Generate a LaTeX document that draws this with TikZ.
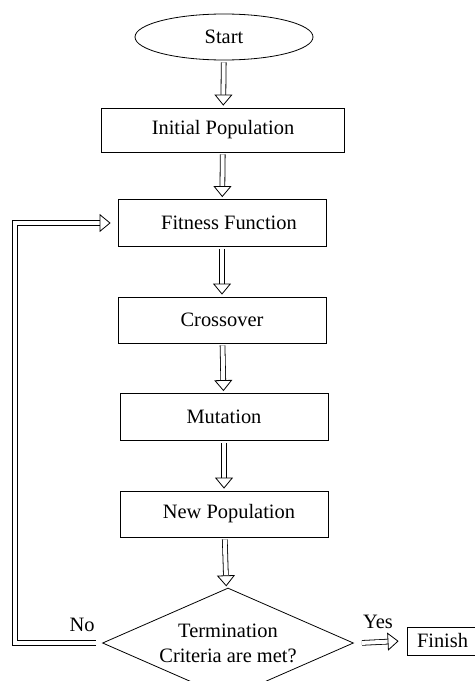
\documentclass[tikz,border=0pt]{standalone}
\usepackage{fontspec}
\setmainfont{Liberation Serif}
\usetikzlibrary{arrows.meta,shapes.geometric}

\begin{document}
\begin{tikzpicture}[font=\fontsize{20.5}{25}\selectfont,
  box/.style={draw,line width=0.8bp,rectangle,minimum width=208bp,minimum height=46bp,inner sep=0pt},
  flow/.style={draw,double,double distance=4bp,line width=0.8bp,shorten >=2bp,shorten <=2bp,-{Triangle[open,fill=white,width=18bp,length=11bp]}}]
\useasboundingbox (0bp,0bp) rectangle (475bp,-681bp);
\clip (0bp,0bp) rectangle (475bp,-681bp);
\node (start) at (224bp,-37bp)[draw,ellipse,line width=0.8bp,minimum width=178bp,minimum height=46bp,inner sep=0pt] {Start};
\node (init) at (223bp,-130bp)[box,minimum width=243bp,minimum height=44bp] {Initial Population};
\node (fit) at (222bp,-223bp)[box,minimum height=47bp] {\hspace{14bp}Fitness Function};
\node (cross) at (222bp,-320bp)[box] {Crossover};
\node (mut) at (224bp,-417bp)[box,minimum height=47bp] {Mutation};
\node (newp) at (224bp,-514bp)[box] {\hspace{10bp}New Population};
\node (term) at (228bp,-643bp)[draw,diamond,aspect=2.3,line width=0.8bp,minimum width=251bp,minimum height=110bp,inner sep=0pt,align=center] {Termination\\Criteria are met?};
\node (finish) at (452bp,-641bp)[draw,line width=0.8bp,minimum width=90bp,minimum height=28bp,inner sep=0pt,text width=70bp] {Finish};
\node (no) at (82bp,-625bp) {No};
\node (yes) at (378bp,-622bp) {Yes};
\coordinate (loop) at (15bp,-643bp);
\draw [flow] (start) -- (init);
\draw [flow] (init) -- (fit);
\draw [flow] (fit) -- (cross);
\draw [flow] (cross) -- (mut);
\draw [flow] (mut) -- (newp);
\draw [flow] (newp) -- (term);
\draw [flow] ([xshift=-4bp]term.west) -- (loop) |- ([xshift=-5bp]fit.west);
\draw [flow] ([xshift=6bp]term.east) -- ([xshift=-6bp]finish.west);
\end{tikzpicture}
\end{document}
